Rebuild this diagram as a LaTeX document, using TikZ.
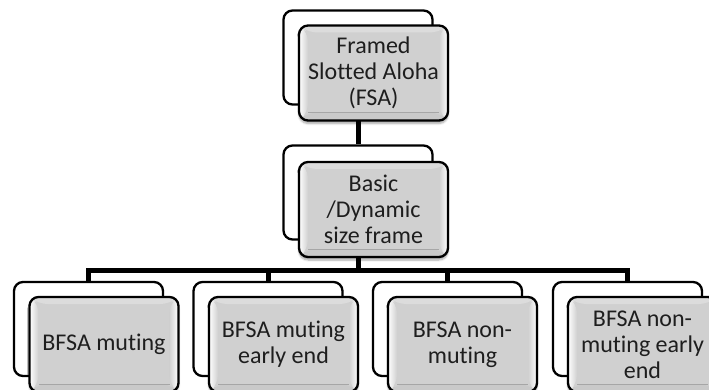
\documentclass[tikz,border=0pt]{standalone}
\usepackage{fontspec}
\setmainfont[Ligatures=NoCommon]{Carlito}
\usetikzlibrary{calc,backgrounds,shadows.blur}
\definecolor{face}{HTML}{D0D0D0}
\definecolor{topface}{HTML}{DCDCDC}
\definecolor{botface}{HTML}{C9C9C9}
\definecolor{textgray}{HTML}{1E1E1E}
\tikzset{
  backbox/.style={draw=black, line width=2.3pt, fill=white, rounded corners=9pt,
    minimum width=149pt, minimum height=94pt, inner sep=0pt},
  frontbox/.style={draw=black, line width=2.3pt, fill=face, rounded corners=9pt,
    minimum width=149pt, minimum height=95pt, inner sep=0pt, align=center,
    font=\fontsize{24}{26}\selectfont, text=textgray,
    blur shadow={shadow xshift=0pt, shadow yshift=-3pt, shadow opacity=35, shadow blur steps=6},
    path picture={
      \path (path picture bounding box.north west) coordinate (bnw)
            (path picture bounding box.north east) coordinate (bne)
            (path picture bounding box.south west) coordinate (bsw)
            (path picture bounding box.south east) coordinate (bse);
      \path ($(bnw)+(9,7)$) coordinate (inw) ($(bne)+(-9,7)$) coordinate (ine)
            ($(bsw)+(9,-8)$) coordinate (isw) ($(bse)+(-9,-8)$) coordinate (ise);
      \fill[topface] (bnw) -- (bne) -- (ine) -- (inw) -- cycle;
      \shade[left color=white, right color=face] (bnw) -- (inw) -- (isw) -- (bsw) -- cycle;
      \shade[left color=face, right color=white] (bne) -- (ine) -- (ise) -- (bse) -- cycle;
      \fill[botface] (bsw) -- (isw) -- (ise) -- (bse) -- cycle;
      \draw[line width=0.6pt, black!35] (isw) -- (ise);
    }},
  link/.style={line width=5pt, line join=miter}
}
\begin{document}
\begin{tikzpicture}[x=1pt, y=-1pt]
  \useasboundingbox (0,0) rectangle (709,390);

  % root
  \node[backbox] (topb) at (358,57.5) {};
  \node[frontbox] (top) at (373.5,73) {Framed\\Slotted Aloha\\(FSA)};

  % second level
  \node[backbox] (midb) at (358,192.5) {};
  \node[frontbox] (mid) at (373.5,209.5) {Basic\\/Dynamic\\size frame};

  % leaves
  \node[backbox] (c1b) at (88.5,329) {};
  \node[frontbox] (c1) at (104,344.5) {BFSA muting};
  \node[backbox] (c2b) at (268,329) {};
  \node[frontbox] (c2) at (283.5,344.5) {BFSA muting\\early end};
  \node[backbox] (c3b) at (447.5,329) {};
  \node[frontbox] (c3) at (462.5,344.5) {BFSA non-\\muting};
  \node[backbox] (c4b) at (627.5,329) {};
  \node[frontbox] (c4) at (642.5,344.5) {BFSA non-\\muting early\\end};

  % tree connectors, behind the boxes
  \coordinate (bar) at (0,270);
  \begin{scope}[on background layer]
    \draw[link] (topb.south) -- (midb.north);
    \draw[link] (midb.south) -- (midb.south |- bar);
    \draw[link] (c1b.north) -- (c1b.north |- bar) -- (c4b.north |- bar) -- (c4b.north);
    \draw[link] (c2b.north) -- (c2b.north |- bar);
    \draw[link] (c3b.north) -- (c3b.north |- bar);
  \end{scope}
\end{tikzpicture}
\end{document}
